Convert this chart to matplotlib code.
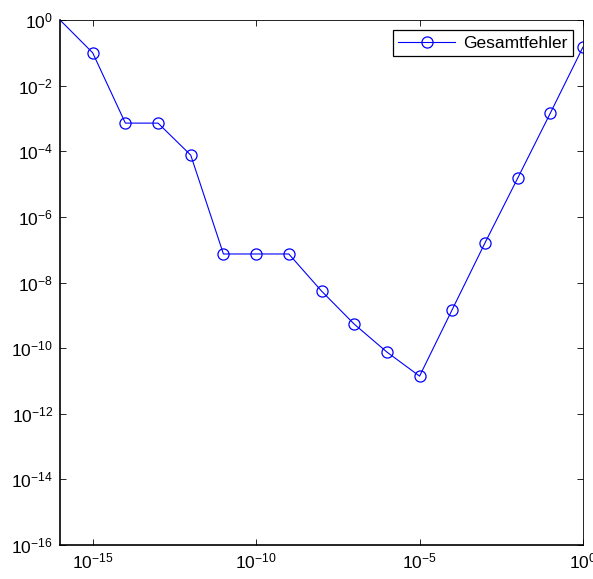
import matplotlib.pyplot as plt
import numpy as np

plt.rcParams['font.family'] = ['Liberation Sans', 'DejaVu Sans']
plt.rcParams['mathtext.default'] = 'regular'
plt.rcParams['font.size'] = 12.5

# step sizes h and total error
h = [1e-16, 1e-15, 1e-14, 1e-13, 1e-12, 1e-11, 1e-10, 1e-9, 1e-8,
     1e-7, 1e-6, 1e-5, 1e-4, 1e-3, 1e-2, 1e-1, 1e0]
fehler = [1.0, 1.0e-1, 7.2e-4, 7.2e-4, 7.6e-5, 7.4e-8, 7.4e-8, 7.4e-8, 5.5e-9,
          5.4e-10, 7.6e-11, 1.4e-11, 1.5e-9, 1.6e-7, 1.5e-5, 1.45e-3, 0.15]

xticks = [1e-15, 1e-10, 1e-5, 1e0]
yticks = [10.0 ** k for k in range(-16, 1, 2)]

fig = plt.figure(figsize=(5.93, 5.79), dpi=100)
ax = fig.add_axes([60 / 593, 1 - 545 / 579, 523 / 593, 525 / 579])

ax.loglog(h, fehler, '-o', color='blue', linewidth=0.8, markersize=8,
          markerfacecolor='none', markeredgewidth=0.9,
          markevery=list(range(1, len(h))), label='Gesamtfehler')

ax.set_xlim(1e-16, 1e0)
ax.set_ylim(1e-16, 1e0)
ax.set_xticks(xticks)
ax.set_yticks(yticks)
ax.minorticks_off()
ax.tick_params(direction='in', length=4, width=0.6, top=True, right=True,
               labelsize=12.5, pad=5)

for side in ['left', 'bottom']:
    ax.spines[side].set_linewidth(1.2)
for side in ['top', 'right']:
    ax.spines[side].set_linewidth(0.6)

leg = ax.legend(loc='upper right', fancybox=False, framealpha=1,
                edgecolor='black', borderaxespad=0.6, handlelength=3.3,
                handletextpad=0.45, borderpad=0.3, fontsize=12.5)
leg.get_frame().set_linewidth(0.9)

fig.savefig('out.png', dpi=100)
